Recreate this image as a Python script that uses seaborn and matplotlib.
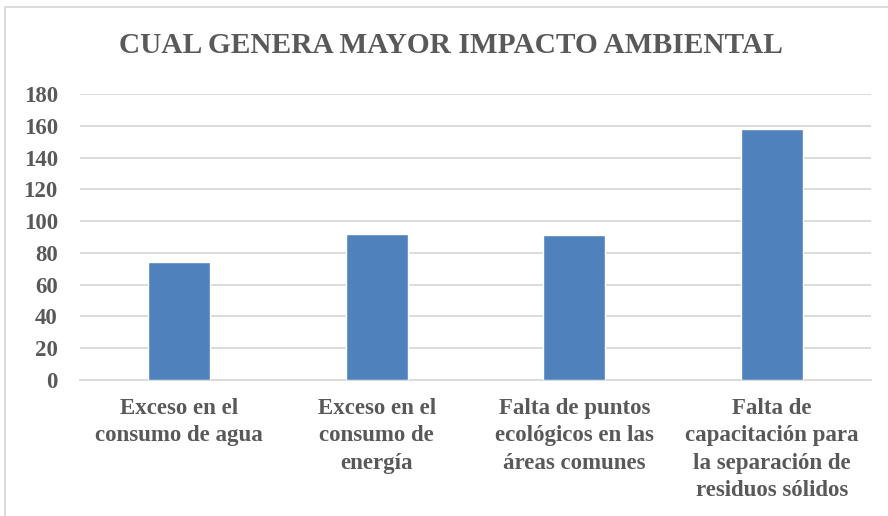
"""Bar chart: cual genera mayor impacto ambiental."""

import matplotlib
matplotlib.use("Agg")
import matplotlib.pyplot as plt
import matplotlib.patches as mpatches
import pandas as pd
import seaborn as sns

categorias = [
    "Exceso en el\nconsumo de agua",
    "Exceso en el\nconsumo de\nenergía",
    "Falta de puntos\necológicos en las\náreas comunes",
    "Falta de\ncapacitación para\nla separación de\nresiduos sólidos",
]
valores = [74, 92, 91, 158]
y_ticks = [0, 20, 40, 60, 80, 100, 120, 140, 160, 180]

TEXT = "#595959"
GRID = "#d9d9d9"
BAR = "#4f81bd"


def main():
    sns.set_style("white")
    plt.rcParams["font.family"] = ["Liberation Serif", "DejaVu Serif"]

    df = pd.DataFrame({"categoria": categorias, "valor": valores})

    fig = plt.figure(figsize=(8.88, 5.16), dpi=100)
    ax = fig.add_axes([80 / 888, 1 - 380 / 516, (871 - 80) / 888, (380 - 94) / 516])

    sns.barplot(data=df, x="categoria", y="valor", color=BAR, saturation=1,
                width=0.313, ax=ax, zorder=3)

    ax.set_ylim(0, 180)
    ax.set_yticks(y_ticks)
    ax.yaxis.grid(True, color=GRID, linewidth=1.3, zorder=0)
    ax.set_axisbelow(True)
    for side in ["top", "right", "left"]:
        ax.spines[side].set_visible(False)
    ax.spines["bottom"].set_color(GRID)
    ax.spines["bottom"].set_linewidth(1.3)
    ax.set_xlabel("")
    ax.set_ylabel("")
    ax.tick_params(axis="both", length=0, colors=TEXT)
    ax.tick_params(axis="y", pad=16)
    ax.tick_params(axis="x", pad=13)
    for lab in ax.get_yticklabels():
        lab.set_fontsize(16.5)
        lab.set_fontweight("bold")
    for lab in ax.get_xticklabels():
        lab.set_fontsize(16.5)
        lab.set_fontweight("bold")
        lab.set_multialignment("center")
        lab.set_linespacing(1.4)
        lab.set_verticalalignment("top")

    fig.text(0.508, 0.912, "CUAL GENERA MAYOR IMPACTO AMBIENTAL",
             ha="center", va="center", fontsize=21.2, fontweight="bold",
             color=TEXT)

    # chart area border (cropped on right and bottom in the original)
    border = mpatches.Rectangle((5 / 888, -0.1), 1.2, 1.1 - 7 / 516,
                                transform=fig.transFigure, fill=False,
                                edgecolor=GRID, linewidth=1.3)
    fig.patches.append(border)

    fig.savefig("out.png", dpi=100)
    plt.close(fig)


if __name__ == "__main__":
    main()
